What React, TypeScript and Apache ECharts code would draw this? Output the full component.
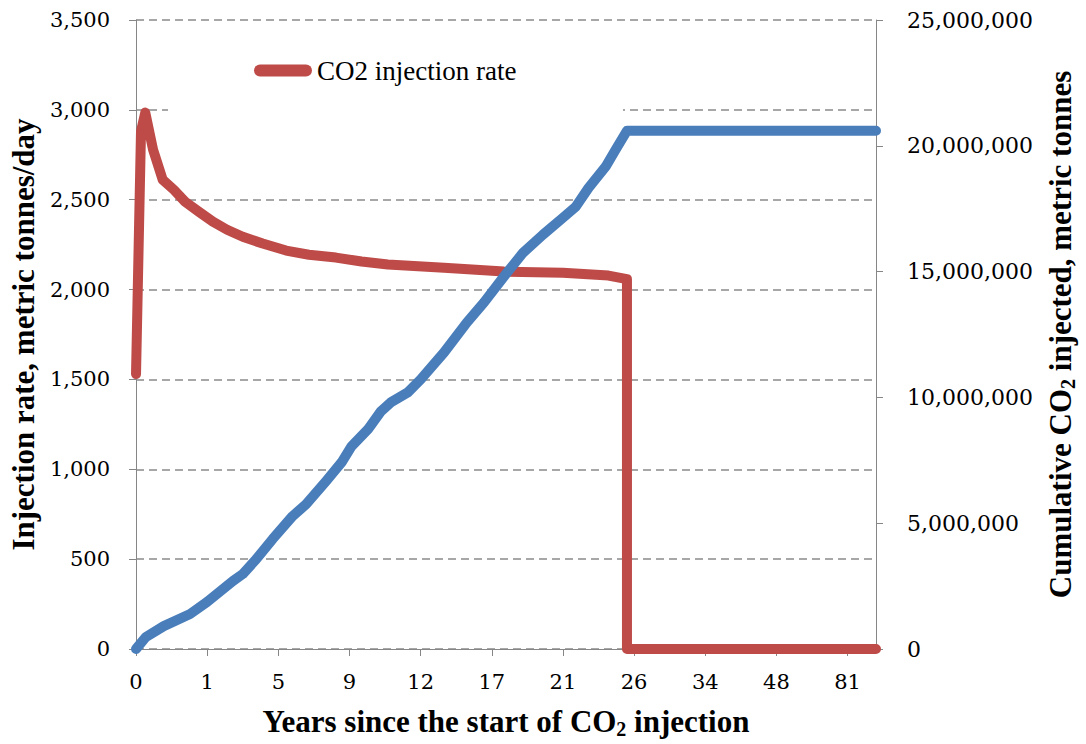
import React, { useEffect, useRef } from 'react';
import * as echarts from 'echarts';

// x positions are time-step indices; a tick label every 10 steps
const xTickLabels = ['0', '1', '5', '9', '12', '17', '21', '26', '34', '48', '81'];
const stepsPerLabel = 10;
const lastStep = 104;

// CO2 injection rate (metric tonnes/day), left axis
const rateSteps = [0, 0.7, 1.3, 2.4, 3.75, 5.3, 6.9, 9.0, 10.8, 12.8, 15.0, 17.8, 21.1, 24.3, 28.1, 31.7, 35.4, 43.3, 51.7, 60.0, 66.4, 69, 69, 104];
const rateValues = [1530, 2880, 2985, 2778, 2611, 2556, 2489, 2428, 2378, 2333, 2294, 2256, 2217, 2194, 2178, 2156, 2139, 2122, 2100, 2094, 2078, 2058, 0, 0];

// Cumulative CO2 injected (metric tonnes), right axis
const cumSteps = [0, 1.4, 3.9, 7.6, 10, 13.6, 15, 16.9, 19.2, 22, 23.9, 26.7, 28.9, 30.3, 32.6, 34.4, 35.8, 38.2, 40, 43.3, 46.5, 48.9, 51.7, 54.4, 57.2, 60, 61.8, 63.6, 66, 67.4, 69, 104];
const cumValues = [0, 480000, 910000, 1390000, 1870000, 2700000, 2980000, 3570000, 4370000, 5280000, 5750000, 6670000, 7420000, 8060000, 8730000, 9440000, 9800000, 10200000, 10710000, 11790000, 12980000, 13770000, 14800000, 15750000, 16470000, 17140000, 17580000, 18330000, 19170000, 19840000, 20600000, 20600000];

const leftTicks = { min: 0, max: 3500, interval: 500 };
const rightTicks = { min: 0, max: 25000000, interval: 5000000 };

const RED = '#BE4B48';
const BLUE = '#4A7EBB';
const AXIS_GRAY = '#868686';
const GRID_GRAY = '#8a8a8a';
const LABEL_FONT = 'DejaVu Serif';
const TITLE_FONT = 'Liberation Serif';

const titleRich = {
  n: { fontFamily: TITLE_FONT, fontWeight: 'bold', fontSize: 31, lineHeight: 36, color: '#000' },
  s: { fontFamily: TITLE_FONT, fontWeight: 'bold', fontSize: 20, lineHeight: 20, verticalAlign: 'bottom', color: '#000' },
};

export default function App() {
  const ref = useRef<HTMLDivElement>(null);

  useEffect(() => {
    if (!ref.current) return;
    const chart = echarts.init(ref.current, undefined, { renderer: 'svg' });
    const tickPositions = xTickLabels.map((_, j) => j * stepsPerLabel);
    const fmtNum = (v: number) => Math.round(v).toLocaleString('en-US');

    chart.setOption({
      animation: false,
      backgroundColor: '#fff',
      grid: { left: 135, right: 202, top: 20, bottom: 94, containLabel: false },
      legend: {
        data: ['CO2 injection rate'],
        left: 254,
        top: 57,
        padding: 0,
        itemWidth: 58,
        itemHeight: 12,
        icon: 'path://M6,0 H52 A6,6 0 0 1 52,12 H6 A6,6 0 0 1 6,0 Z',
        textStyle: { fontFamily: TITLE_FONT, fontSize: 27, color: '#000' },
        z: 5,
      },
      graphic: [
        {
          type: 'rect',
          z: 1,
          shape: { x: 168, y: 30, width: 455, height: 84 },
          style: { fill: '#fff' },
          silent: true,
        },
      ],
      xAxis: {
        type: 'value',
        min: 0,
        max: lastStep,
        interval: stepsPerLabel,
        name: '{n|Years since the start of CO}{s|2}{n| injection}',
        nameLocation: 'middle',
        nameGap: 54,
        nameTextStyle: { rich: titleRich },
        axisLine: { show: true, lineStyle: { color: AXIS_GRAY, width: 1 } },
        axisTick: { show: true, inside: false, length: 7, lineStyle: { color: AXIS_GRAY }, customValues: tickPositions },
        axisLabel: {
          margin: 22,
          fontFamily: LABEL_FONT,
          fontSize: 21,
          color: '#000',
          customValues: tickPositions,
          formatter: (v: number) => {
            const j = Math.round(v / stepsPerLabel);
            return Math.abs(v - j * stepsPerLabel) < 1e-6 && xTickLabels[j] !== undefined ? xTickLabels[j] : '';
          },
        },
        splitLine: { show: false },
      },
      yAxis: [
        {
          type: 'value',
          position: 'left',
          min: leftTicks.min,
          max: leftTicks.max,
          interval: leftTicks.interval,
          name: '{n|Injection rate, metric tonnes/day}',
          nameLocation: 'middle',
          nameRotate: 90,
          nameGap: 91,
          nameTextStyle: { rich: titleRich },
          axisLine: { show: true, lineStyle: { color: AXIS_GRAY, width: 1 } },
          axisTick: { show: true, inside: false, length: 7, lineStyle: { color: AXIS_GRAY } },
          axisLabel: { margin: 26, fontFamily: LABEL_FONT, fontSize: 21, color: '#000', formatter: fmtNum },
          splitLine: { show: true, lineStyle: { color: GRID_GRAY, width: 1.5, type: [8, 5] } },
        },
        {
          type: 'value',
          position: 'right',
          min: rightTicks.min,
          max: rightTicks.max,
          interval: rightTicks.interval,
          name: '{n|Cumulative CO}{s|2}{n| injected, metric tonnes}',
          nameLocation: 'middle',
          nameRotate: 90,
          nameGap: 166,
          nameTextStyle: { rich: titleRich },
          axisLine: { show: true, lineStyle: { color: AXIS_GRAY, width: 1 } },
          axisTick: { show: true, inside: false, length: 7, lineStyle: { color: AXIS_GRAY } },
          axisLabel: { margin: 31, fontFamily: LABEL_FONT, fontSize: 22, color: '#000', formatter: fmtNum },
          splitLine: { show: false },
        },
      ],
      series: [
        {
          name: 'CO2 injection rate',
          type: 'line',
          yAxisIndex: 0,
          data: rateSteps.map((s, k) => [s, rateValues[k]]),
          showSymbol: false,
          symbol: 'none',
          lineStyle: { color: RED, width: 10, cap: 'round', join: 'round' },
          itemStyle: { color: RED },
          z: 2,
        },
        {
          name: 'Cumulative CO2 injected',
          type: 'line',
          yAxisIndex: 1,
          data: cumSteps.map((s, k) => [s, cumValues[k]]),
          showSymbol: false,
          symbol: 'none',
          lineStyle: { color: BLUE, width: 10, cap: 'round', join: 'round' },
          itemStyle: { color: BLUE },
          z: 3,
        },
      ],
    });
    return () => chart.dispose();
  }, []);

  return (
    <div
      ref={ref}
      style={{ position: 'absolute', left: 0, top: 0, width: 1086, height: 744, background: '#fff' }}
    />
  );
}
